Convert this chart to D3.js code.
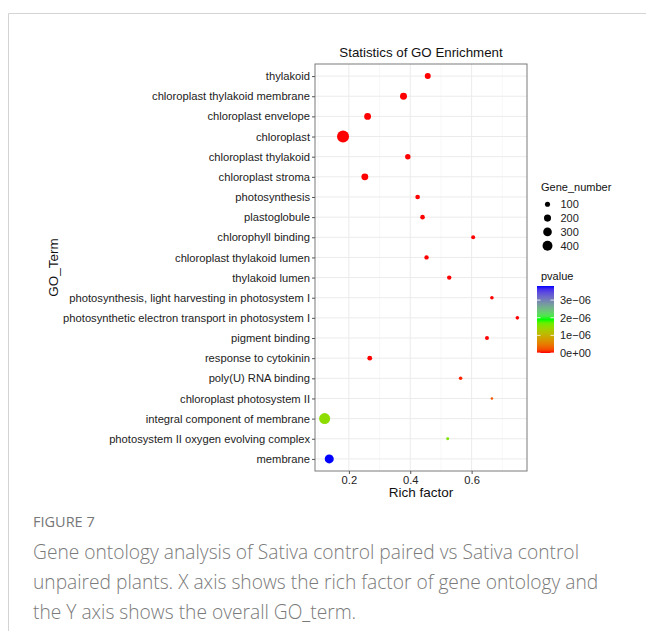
<!DOCTYPE html>
<html><head><meta charset="utf-8">
<script src="https://cdn.jsdelivr.net/npm/d3@7"></script>
<style>body{margin:0;background:#fff}svg{display:block}</style>
</head><body>
<svg id="c" width="646" height="631"></svg>
<script>
const terms = ["thylakoid","chloroplast thylakoid membrane","chloroplast envelope","chloroplast","chloroplast thylakoid","chloroplast stroma","photosynthesis","plastoglobule","chlorophyll binding","chloroplast thylakoid lumen","thylakoid lumen","photosynthesis, light harvesting in photosystem I","photosynthetic electron transport in photosystem I","pigment binding","response to cytokinin","poly(U) RNA binding","chloroplast photosystem II","integral component of membrane","photosystem II oxygen evolving complex","membrane"];
const richFactor = [0.457,0.378,0.261,0.181,0.392,0.252,0.424,0.440,0.605,0.453,0.527,0.666,0.749,0.650,0.268,0.564,0.666,0.121,0.522,0.136];
const geneNumber = [140,195,185,590,115,190,80,80,58,72,72,46,46,58,88,46,20,496,29,330];
const pValue = [1e-30,1e-40,1e-35,1e-60,1e-25,1e-30,1e-15,1e-14,1e-12,1e-12,1e-10,1e-9,1e-9,1e-9,1e-9,5e-8,2.5e-7,1.5e-6,1.6e-6,3.8e-6];
const xTicks = [0.2,0.4,0.6];
const xMinorTicks = [0.1,0.3,0.5,0.7];
const sizeLegendValues = [100,200,300,400];
const pTicks = [0,1e-6,2e-6,3e-6];
const pTickLabels = ["0e+00","1e\u221206","2e\u221206","3e\u221206"];
const captionHead = "FIGURE 7";
const captionLines = ["Gene ontology analysis of Sativa control paired vs Sativa control","unpaired plants. X axis shows the rich factor of gene ontology and","the Y axis shows the overall GO_term."];

const svg = d3.select("#c");
const F = "'Liberation Sans', Arial, Helvetica, sans-serif";

// card border
svg.append("path").attr("d","M8.5,631 V13.5 H646").attr("fill","none").attr("stroke","#d4d4d4").attr("stroke-width",1);

const P = {l:315, r:527, t:64, b:471};
const ext = d3.extent(richFactor), span = ext[1]-ext[0];
const x = d3.scaleLinear().domain([ext[0]-0.05*span, ext[1]+0.05*span]).range([P.l,P.r]);
const y = d3.scalePoint().domain(terms).range([P.t,P.b]).padding(0.6);
const nExt = d3.extent(geneNumber);
const area = d3.scaleLinear().domain(nExt).range([1.3*1.3, 6*6]);
const rad = n => Math.sqrt(area(n));
const pMax = d3.max(pValue), pMin = 0;
const color = d3.scaleLinear().domain([pMin,(pMin+pMax)/2,pMax]).range(["#ff0000","#00ff00","#0000ff"]).interpolate(d3.interpolateLab);

// grid
const g = svg.append("g");
g.selectAll(".mn").data(xMinorTicks).join("line").attr("x1",d=>x(d)).attr("x2",d=>x(d)).attr("y1",P.t).attr("y2",P.b).attr("stroke","#f3f3f3").attr("stroke-width",0.6);
g.selectAll(".mj").data(xTicks).join("line").attr("x1",d=>x(d)).attr("x2",d=>x(d)).attr("y1",P.t).attr("y2",P.b).attr("stroke","#ebebeb").attr("stroke-width",1);
g.selectAll(".hy").data(terms).join("line").attr("x1",P.l).attr("x2",P.r).attr("y1",d=>y(d)).attr("y2",d=>y(d)).attr("stroke","#ebebeb").attr("stroke-width",1);

// points
const data = terms.map((t,i)=>({t, rf:richFactor[i], n:geneNumber[i], p:pValue[i]}));
svg.append("g").selectAll("circle").data(data).join("circle")
  .attr("cx",d=>x(d.rf)).attr("cy",d=>y(d.t)).attr("r",d=>rad(d.n)).attr("fill",d=>color(d.p));

// border
svg.append("rect").attr("x",P.l).attr("y",P.t).attr("width",P.r-P.l).attr("height",P.b-P.t).attr("fill","none").attr("stroke","#7a7a7a").attr("stroke-width",1);

// axes
const xa = svg.append("g").attr("transform",`translate(0,${P.b})`).call(d3.axisBottom(x).tickValues(xTicks).tickSize(3).tickPadding(2).tickFormat(d3.format(".1f")));
const ya = svg.append("g").attr("transform",`translate(${P.l},0)`).call(d3.axisLeft(y).tickSize(3).tickPadding(2));
[xa,ya].forEach(a=>{a.select(".domain").remove();a.selectAll("line").attr("stroke","#555");a.selectAll("text").attr("fill","#222").style("font-family",F).style("font-size","11.2px");});

// titles
svg.append("text").attr("x",(P.l+P.r)/2).attr("y",57).attr("text-anchor","middle").style("font-family",F).style("font-size","13.3px").attr("fill","#111").text("Statistics of GO Enrichment");
svg.append("text").attr("x",(P.l+P.r)/2).attr("y",497).attr("text-anchor","middle").style("font-family",F).style("font-size","13.5px").attr("fill","#111").text("Rich factor");
svg.append("text").attr("transform",`translate(58,${(P.t+P.b)/2}) rotate(-90)`).attr("text-anchor","middle").style("font-family",F).style("font-size","13.5px").attr("fill","#111").text("GO_Term");

// size legend
const L = svg.append("g");
L.append("text").attr("x",541).attr("y",191).style("font-family",F).style("font-size","11px").attr("fill","#111").text("Gene_number");
sizeLegendValues.forEach((v,i)=>{
  const cy = 204.3 + i*13.8;
  L.append("circle").attr("cx",547.5).attr("cy",cy).attr("r",rad(v)).attr("fill","#000");
  L.append("text").attr("x",560.5).attr("y",cy+4).style("font-family",F).style("font-size","11px").attr("fill","#222").text(v);
});

// color legend
L.append("text").attr("x",541).attr("y",280).style("font-family",F).style("font-size","11px").attr("fill","#111").text("pvalue");
const cb = {x:537, y:286, w:17, h:67};
const cy = d3.scaleLinear().domain([pMin,pMax]).range([cb.y+cb.h, cb.y]);
const defs = svg.append("defs");
const grad = defs.append("linearGradient").attr("id","pg").attr("x1",0).attr("y1",1).attr("x2",0).attr("y2",0);
d3.range(0,1.0001,0.05).forEach(t=>grad.append("stop").attr("offset",t).attr("stop-color",color(pMin+t*(pMax-pMin))));
L.append("rect").attr("x",cb.x).attr("y",cb.y).attr("width",cb.w).attr("height",cb.h).attr("fill","url(#pg)");
pTicks.forEach((v,i)=>{
  const yy = cy(v);
  L.append("line").attr("x1",cb.x).attr("x2",cb.x+3.5).attr("y1",yy).attr("y2",yy).attr("stroke","#fff").attr("stroke-width",0.8);
  L.append("line").attr("x1",cb.x+cb.w-3.5).attr("x2",cb.x+cb.w).attr("y1",yy).attr("y2",yy).attr("stroke","#fff").attr("stroke-width",0.8);
  L.append("text").attr("x",560).attr("y",yy+4).style("font-family",F).style("font-size","11px").attr("fill","#222").text(pTickLabels[i]);
});

// caption
const CF = "'Open Sans', 'Noto Sans', sans-serif";
svg.append("text").attr("x",33).attr("y",527).style("font-family",CF).style("font-size","14.5px").attr("fill","#777").text(captionHead);
captionLines.forEach((s,i)=>svg.append("text").attr("x",33).attr("y",559+i*30).style("font-family",CF).style("font-size","19.2px").style("font-weight",300).attr("fill","#7a7a7a").text(s));
</script>
</body></html>
